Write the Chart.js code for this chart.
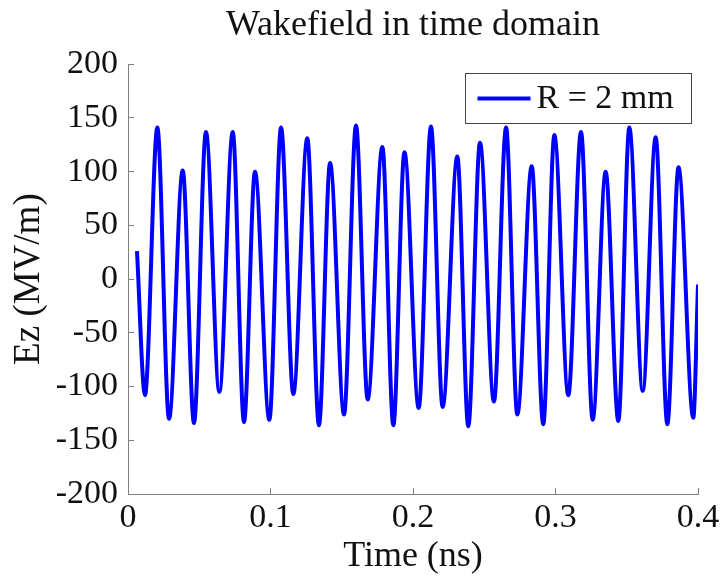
<!DOCTYPE html>
<html>
<head>
<meta charset="utf-8">
<script src="https://cdn.jsdelivr.net/npm/chart.js@4/dist/chart.umd.min.js"></script>
<style>
  html, body { margin: 0; padding: 0; background: #fff; }
  #wakeChart { display: block; }
</style>
</head>
<body>
<canvas id="wakeChart" width="726" height="581"></canvas>
<script>
// time (ns) of the start point, every trough/peak and the end point
const timeNs = [
  0.0063, 0.0119, 0.0206, 0.0288, 0.0384, 0.0463, 0.0547, 0.0641, 0.0735, 0.0814,
  0.0891, 0.0992, 0.1074, 0.1160, 0.1258, 0.1340, 0.1418, 0.1516, 0.1600, 0.1682,
  0.1785, 0.1862, 0.1940, 0.2040, 0.2126, 0.2208, 0.2311, 0.2388, 0.2470, 0.2568,
  0.2653, 0.2732, 0.2833, 0.2914, 0.2992, 0.3090, 0.3179, 0.3261, 0.3352, 0.3441,
  0.3518, 0.3612, 0.3703, 0.3785, 0.3863, 0.3967, 0.4000
];
// Ez (MV/m) at those times
const ezValues = [
  26, -108, 141, -130, 101, -134, 137, -105, 137, -133,
  100, -131, 141, -107, 131, -136, 108, -126, 143, -112,
  123, -136, 118, -120, 142, -119, 114, -137, 127, -114,
  141, -126, 105, -135, 134, -108, 137, -131, 100, -132,
  141, -104, 132, -135, 104, -129, -5
];
const seriesLabel = "R = 2 mm";
const xTicks = { min: 0, max: 0.4, step: 0.1 };
const yTicks = { min: -200, max: 200, step: 50 };

const serif = "'Liberation Serif', 'Times New Roman', serif";
const axisGray = "#808080";

// legend drawn inside the plot, top right, like the original figure
const insideLegend = {
  id: "insideLegend",
  afterDatasetsDraw(chart) {
    const ctx = chart.ctx;
    const area = chart.chartArea;
    const ds = chart.data.datasets[0];
    const w = 226, h = 50;
    const x = Math.round(area.right - 7 - w) + 0.5;
    const y = Math.round(area.top + 9) + 0.5;
    ctx.save();
    ctx.fillStyle = "#fff";
    ctx.fillRect(x, y, w, h);
    ctx.strokeStyle = "#444";
    ctx.lineWidth = 1;
    ctx.strokeRect(x, y, w, h);
    ctx.strokeStyle = ds.borderColor;
    ctx.lineWidth = 4;
    ctx.beginPath();
    ctx.moveTo(x + 12, y + h / 2);
    ctx.lineTo(x + 65, y + h / 2);
    ctx.stroke();
    ctx.fillStyle = "#111";
    ctx.font = "34px " + serif;
    ctx.textBaseline = "middle";
    ctx.textAlign = "left";
    ctx.fillText(ds.label, x + 71, y + h / 2 + 1);
    ctx.restore();
  }
};

const points = timeNs.map((t, i) => ({ x: t, y: ezValues[i] }));

new Chart(document.getElementById("wakeChart"), {
  type: "line",
  data: {
    datasets: [
      {
        label: seriesLabel,
        data: points,
        borderColor: "#0000ff",
        backgroundColor: "#0000ff",
        borderWidth: 4,
        pointRadius: 0,
        cubicInterpolationMode: "monotone",
        fill: false,
      },
    ],
  },
  options: {
    responsive: false,
    animation: false,
    devicePixelRatio: 1,
    layout: { padding: { left: 0, right: 28, top: 0, bottom: 0 } },
    plugins: {
      legend: { display: false },
      tooltip: { enabled: false },
      title: {
        display: true,
        fullSize: false,
        text: "Wakefield in time domain",
        color: "#111",
        font: { family: serif, size: 36, weight: "normal", lineHeight: 1.2 },
        padding: { top: 4, bottom: 17 },
      },
    },
    scales: {
      x: {
        type: "linear",
        min: xTicks.min,
        max: xTicks.max,
        afterFit: (s) => {
          s.height = 87;
          s.paddingLeft = 0;
          s.paddingRight = 28;
        },
        ticks: {
          stepSize: xTicks.step,
          color: "#111",
          font: { family: serif, size: 34 },
          padding: 10,
          maxRotation: 0,
        },
        grid: {
          drawOnChartArea: false,
          tickLength: -6,
          tickColor: axisGray,
          tickWidth: 1,
        },
        border: { color: axisGray, width: 1 },
        title: {
          display: true,
          text: "Time (ns)",
          color: "#111",
          font: { family: serif, size: 36, lineHeight: 1.2 },
          padding: { top: 0, bottom: 3 },
        },
      },
      y: {
        type: "linear",
        min: yTicks.min,
        max: yTicks.max,
        afterFit: (s) => { s.width = 128; },
        ticks: {
          stepSize: yTicks.step,
          color: "#111",
          font: { family: serif, size: 34 },
          padding: 16,
        },
        grid: {
          drawOnChartArea: false,
          tickLength: -6,
          tickColor: axisGray,
          tickWidth: 1,
        },
        border: { color: axisGray, width: 1 },
        title: {
          display: true,
          text: "Ez (MV/m)",
          color: "#111",
          font: { family: serif, size: 37, lineHeight: 1.2 },
          padding: { top: 7, bottom: 0 },
        },
      },
    },
  },
  plugins: [insideLegend],
});
</script>
</body>
</html>
